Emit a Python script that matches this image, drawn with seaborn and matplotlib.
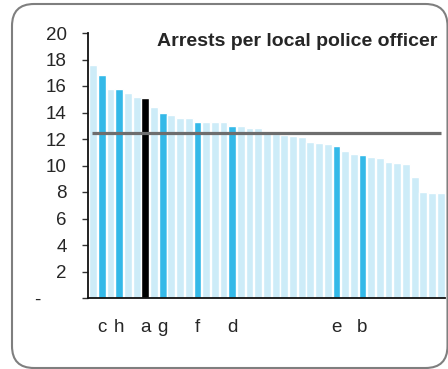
import numpy as np
import pandas as pd
import matplotlib
matplotlib.use("Agg")
import matplotlib.pyplot as plt
import seaborn as sns
from matplotlib.patches import FancyBboxPatch
from matplotlib.transforms import ScaledTranslation

# --- data ---
values = [17.6, 16.8, 15.8, 15.8, 15.5, 15.2, 15.1, 14.4, 14.0, 13.8,
          13.6, 13.6, 13.3, 13.3, 13.3, 13.3, 13.0, 13.0, 12.8, 12.8,
          12.55, 12.4, 12.3, 12.2, 12.15, 11.8, 11.7, 11.6, 11.45, 11.1,
          10.9, 10.8, 10.65, 10.55, 10.25, 10.2, 10.1, 9.1, 8.0, 7.9, 7.9]
labels = {1: "c", 3: "h", 6: "a", 8: "g", 12: "f", 16: "d", 28: "e", 31: "b"}
highlight = "a"
average = 12.47
title = "Arrests per local police officer"
yticks = [0, 2, 4, 6, 8, 10, 12, 14, 16, 18, 20]
ytick_labels = ["-", "2", "4", "6", "8", "10", "12", "14", "16", "18", "20"]

LIGHT = "#cdecf8"
BLUE = "#34b9e8"
BLACK = "#000000"

names = [labels.get(i, "") for i in range(len(values))]
colors = []
for n in names:
    if n == highlight:
        colors.append(BLACK)
    elif n:
        colors.append(BLUE)
    else:
        colors.append(LIGHT)

df = pd.DataFrame({"pos": [str(i) for i in range(len(values))], "value": values})

sns.set_style("white")
plt.rcParams["font.family"] = ["Liberation Sans", "DejaVu Sans"]

fig = plt.figure(figsize=(4.48, 3.69), dpi=100)
ax = fig.add_axes([88 / 448, 71 / 369, 357 / 448, 265 / 369])

sns.barplot(data=df, x="pos", y="value", hue="pos", palette=colors,
            legend=False, width=0.9, saturation=1, ax=ax)

# average line
ax.hlines(average, -0.15, len(values) - 0.95, color="#6e6e6e", linewidth=2.3, zorder=5)

ax.set_ylim(0, 20)
ax.set_xlim(-0.6, len(values) - 0.5)
ax.set_yticks(yticks)
ax.set_yticklabels(ytick_labels, fontsize=13.5)
ax.set_xticks(range(len(values)))
ax.set_xticklabels(names, fontsize=13.5)
ax.set_xlabel("")
ax.set_ylabel("")

ax.tick_params(axis="y", left=True, length=4.3, width=1, color="#333333", pad=11)
ax.tick_params(axis="x", bottom=False, length=0, pad=15)

# zero label sits further left
ax.get_yticklabels()[0].set_transform(
    ax.get_yticklabels()[0].get_transform() + ScaledTranslation(-0.26, 0, fig.dpi_scale_trans))

for s in ["top", "right"]:
    ax.spines[s].set_visible(False)
ax.spines["left"].set_color("#111111")
ax.spines["left"].set_linewidth(1.3)
ax.spines["bottom"].set_color("#111111")
ax.spines["bottom"].set_linewidth(1.3)

ax.text(0.978, 1.0, title, transform=ax.transAxes, ha="right", va="top",
        fontsize=14, fontweight="bold")

# rounded frame around everything
frame = FancyBboxPatch((0.12, 0.01), 4.355, 3.64,
                       boxstyle="round,pad=0,rounding_size=0.22",
                       transform=fig.dpi_scale_trans, fill=False,
                       edgecolor="#7f7f7f", linewidth=1.5, clip_on=False)
fig.patches.append(frame)

fig.savefig("out.png", dpi=100)
